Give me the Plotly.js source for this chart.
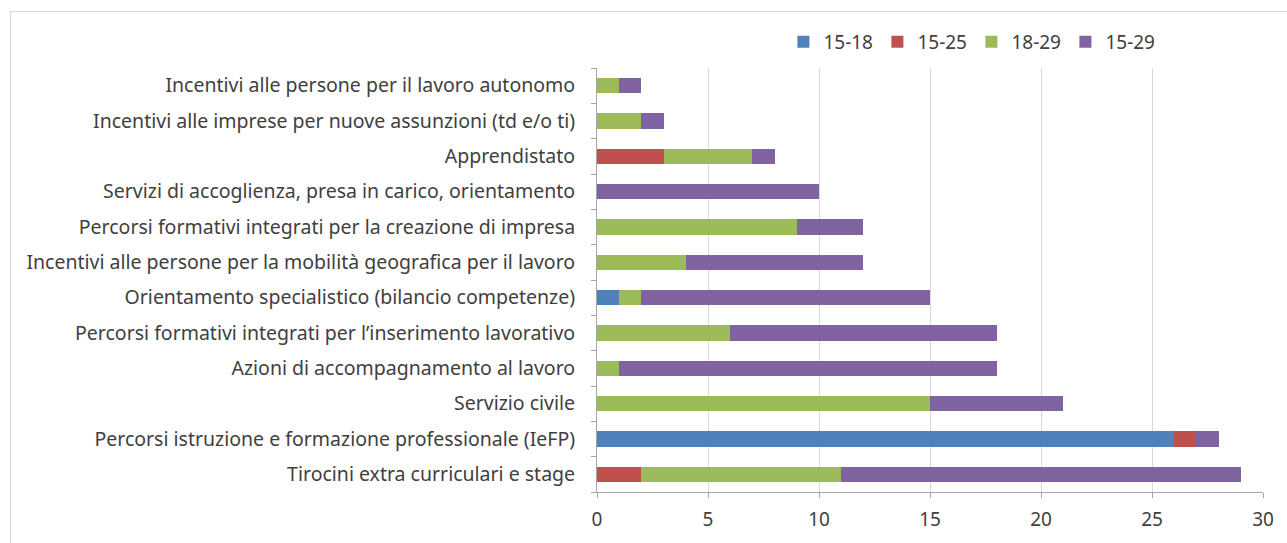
<!DOCTYPE html>
<html>
<head>
<meta charset="utf-8">
<script src="https://cdn.plot.ly/plotly-3.0.1.min.js"></script>
<style>
html,body{margin:0;padding:0;background:#fff;overflow:hidden;}
#frame{position:absolute;left:10px;top:11px;width:1400px;height:700px;border:1px solid #d9d9d9;}
#chart{position:absolute;left:0;top:0;width:1287px;height:543px;}
</style>
</head>
<body>
<div id="frame"></div>
<div id="chart"></div>
<script>
var categories = [
  "Tirocini extra curriculari e stage",
  "Percorsi istruzione e formazione professionale (IeFP)",
  "Servizio civile",
  "Azioni di accompagnamento al lavoro",
  "Percorsi formativi integrati per l\u2019inserimento lavorativo",
  "Orientamento specialistico (bilancio competenze)",
  "Incentivi alle persone per la mobilit\u00e0 geografica per il lavoro",
  "Percorsi formativi integrati per la creazione di impresa",
  "Servizi di accoglienza, presa in carico, orientamento",
  "Apprendistato",
  "Incentivi alle imprese per nuove assunzioni (td e/o ti)",
  "Incentivi alle persone per il lavoro autonomo"
];
var seriesNames = ["15-18", "15-25", "18-29", "15-29"];
var v1518 = [0, 26, 0, 0, 0, 1, 0, 0, 0, 0, 0, 0];
var v1525 = [2, 1, 0, 0, 0, 0, 0, 0, 0, 3, 0, 0];
var v1829 = [9, 0, 15, 1, 6, 1, 4, 9, 0, 4, 2, 1];
var v1529 = [18, 1, 6, 17, 12, 13, 8, 3, 10, 1, 1, 1];
var colors = ["#4f81bd", "#c0504d", "#9bbb59", "#8064a2"];
var xTicks = [0, 5, 10, 15, 20, 25, 30];

var allVals = [v1518, v1525, v1829, v1529];
var traces = allVals.map(function(vals, i){
  return {
    type: "bar",
    orientation: "h",
    name: seriesNames[i],
    y: categories,
    x: vals,
    marker: {color: colors[i], line: {width: 0}},
    hoverinfo: "x+name"
  };
});

var fam = "'Noto Sans', 'Open Sans', sans-serif";
var layout = {
  width: 1287, height: 543,
  barmode: "stack",
  bargap: 0.57,
  paper_bgcolor: "rgba(0,0,0,0)",
  plot_bgcolor: "rgba(0,0,0,0)",
  margin: {l: 597, r: 24, t: 68, b: 51, pad: 0, autoexpand: false},
  font: {family: fam, size: 19, color: "#404040"},
  showlegend: true,
  legend: {
    orientation: "h",
    xref: "container", yref: "container",
    x: 0.6087, xanchor: "left",
    y: 0.923, yanchor: "middle",
    font: {family: fam, size: 19, color: "#404040"},
    traceorder: "normal",
    itemwidth: 30,
    entrywidth: 49,
    bgcolor: "rgba(0,0,0,0)"
  },
  xaxis: {
    range: [0, 30],
    tickvals: xTicks,
    ticktext: xTicks.map(String),
    showgrid: true,
    gridcolor: "#d9d9d9",
    gridwidth: 1,
    zeroline: false,
    showline: true,
    linecolor: "#a6a6a6",
    linewidth: 1,
    ticks: "outside",
    ticklen: 5,
    tickcolor: "#a6a6a6",
    ticklabelstandoff: 5,
    tickfont: {family: fam, size: 19, color: "#404040"},
    fixedrange: true
  },
  yaxis: {
    type: "category",
    categoryorder: "array",
    categoryarray: categories,
    showgrid: false,
    zeroline: false,
    showline: true,
    linecolor: "#a6a6a6",
    linewidth: 1,
    ticks: "outside",
    tickson: "boundaries",
    ticklen: 5,
    tickcolor: "#a6a6a6",
    ticklabelstandoff: 17,
    tickfont: {family: fam, size: 19.5, color: "#404040"},
    fixedrange: true
  }
};

Plotly.newPlot("chart", traces, layout, {displayModeBar: false, staticPlot: true});
</script>
</body>
</html>
